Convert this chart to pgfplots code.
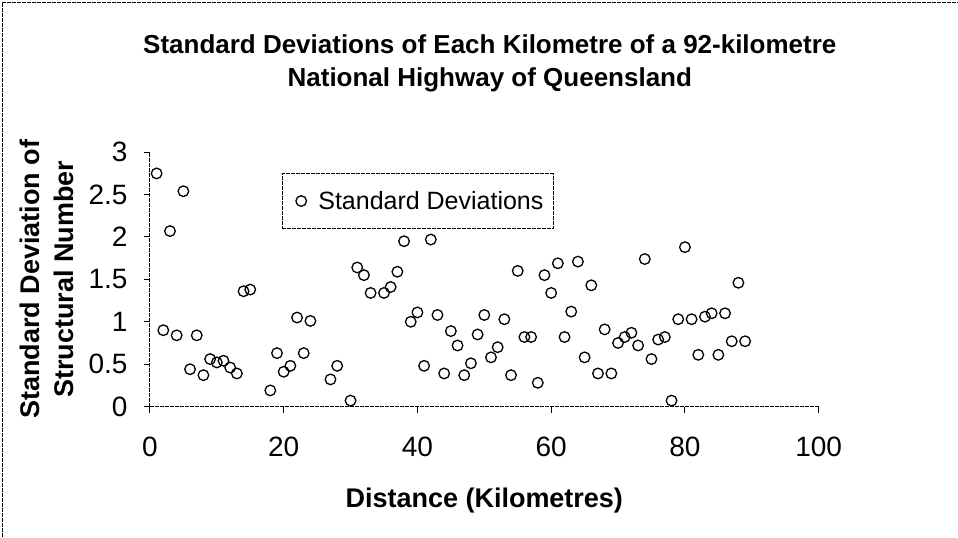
\documentclass[border=0pt]{standalone}
\usepackage{fontspec}
\setmainfont{Liberation Sans}
\usepackage{pgfplots}
\pgfplotsset{compat=1.18}

\pgfplotstableread{
km sd
1 2.75
2 0.90
3 2.07
4 0.84
5 2.54
6 0.44
7 0.84
8 0.37
9 0.56
10 0.52
11 0.54
12 0.46
13 0.39
14 1.36
15 1.38
18 0.19
19 0.63
20 0.41
21 0.48
22 1.05
23 0.63
24 1.01
27 0.32
28 0.48
30 0.07
31 1.64
32 1.55
33 1.34
35 1.34
36 1.41
37 1.59
38 1.95
39 1.00
40 1.11
41 0.48
42 1.97
43 1.08
44 0.39
45 0.89
46 0.72
47 0.37
48 0.51
49 0.85
50 1.08
51 0.58
52 0.70
53 1.03
54 0.37
55 1.60
56 0.82
57 0.82
58 0.28
59 1.55
60 1.34
61 1.69
62 0.82
63 1.12
64 1.71
65 0.58
66 1.43
67 0.39
68 0.91
69 0.39
70 0.75
71 0.82
72 0.87
73 0.72
74 1.74
75 0.56
76 0.79
77 0.82
78 0.07
79 1.03
80 1.88
81 1.03
82 0.61
83 1.06
84 1.10
85 0.61
86 1.10
87 0.77
88 1.46
89 0.77
}\sddata

\begin{document}
\begin{tikzpicture}
% page frame, 958 x 537 (only left and top edges show)
\path (0pt,0pt) rectangle (958pt,537pt);
\draw[black, line width=0.8pt, dash pattern=on 4pt off 1pt] (2.5pt,0pt) -- (2.5pt,535pt) -- (958pt,535pt);

\node[font=\bfseries\fontsize{26}{33}\selectfont, align=center] at (490pt,474pt)
  {Standard Deviations of Each Kilometre of a 92-kilometre\\National Highway of Queensland};

\begin{axis}[
    at={(150pt,130.3pt)}, anchor=south west,
    scale only axis,
    width=669pt, height=254.4pt,
    xmin=0, xmax=100, ymin=0, ymax=3,
    xtick={0,20,...,100},
    ytick={0,0.5,...,3},
    axis lines=left,
    axis line style={-, line width=1pt, dash pattern=on 4pt off 1pt},
    tick align=outside,
    major tick length=6pt,
    tick style={black, line width=1pt, solid},
    /pgf/number format/assume math mode=true,
    tick label style={font=\fontsize{28}{33}\selectfont},
    xticklabel style={yshift=-21pt},
    yticklabel style={xshift=-13pt},
    xlabel={Distance (Kilometres)},
    xlabel style={font=\bfseries\fontsize{27}{32}\selectfont, yshift=-24pt},
    ylabel={Standard Deviation of\\Structural Number},
    ylabel style={font=\bfseries\fontsize{27}{34}\selectfont, align=center, yshift=8pt},
    legend style={at={(0.197,0.917)}, anchor=north west,
        draw=black, line width=0.8pt, dash pattern=on 4pt off 1pt,
        font=\fontsize{25}{30}\selectfont,
        inner xsep=8pt, inner ysep=15.5pt},
    legend cell align=left,
    legend image code/.code={%
        \draw[solid, line width=1.3pt] plot[mark=o, mark size=5.3pt] coordinates {(0pt,0pt)};
        \path (-10.5pt,0pt) (14.5pt,0pt);},
]
\addplot[only marks, mark=o, mark size=5.3pt, line width=1.3pt, black] table[x=km, y=sd] {\sddata};
\legend{Standard Deviations}
\end{axis}
\end{tikzpicture}
\end{document}
